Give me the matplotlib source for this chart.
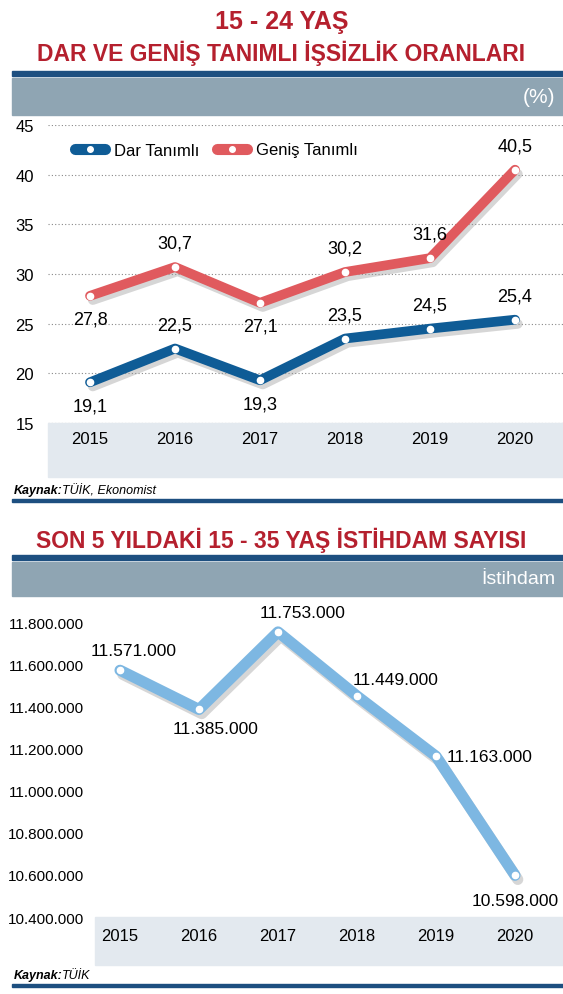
import matplotlib
matplotlib.use("Agg")
import matplotlib.pyplot as plt
from matplotlib.patches import Rectangle
import matplotlib.patheffects as pe

plt.rcParams['font.family'] = ['Liberation Sans', 'DejaVu Sans']

years = [2015, 2016, 2017, 2018, 2019, 2020]
dar = [19.1, 22.5, 19.3, 23.5, 24.5, 25.4]
genis = [27.8, 30.7, 27.1, 30.2, 31.6, 40.5]
istihdam = [11571000, 11385000, 11753000, 11449000, 11163000, 10598000]
yticks1 = [15, 20, 25, 30, 35, 40, 45]
yticks2 = [10400000, 10600000, 10800000, 11000000, 11200000, 11400000, 11600000, 11800000]

W, H = 563, 995
fig = plt.figure(figsize=(W/100, H/100), dpi=100)
RED = '#b5202e'; NAVY = '#1d4f80'; BAND = '#8fa5b3'; LIGHT = '#e3e9ef'
BLUE = '#0f5c96'; PINK = '#e05a5e'; SKY = '#7db7e2'

def fx(px): return px / W
def fy(py): return 1 - py / H
def rect(x0, y0, x1, y1, color):
    fig.patches.append(Rectangle((fx(x0), fy(y1)), fx(x1 - x0), (y1 - y0) / H,
                                 transform=fig.transFigure, color=color, zorder=-5))
def fmt(v):
    return f"{v:,}".replace(',', '.')

# header 1
fig.text(0.5, fy(22), "15 - 24 YAŞ", ha='center', va='center', color=RED, fontsize=18, weight='bold')
fig.text(0.5, fy(53), "DAR VE GENİŞ TANIMLI İŞSİZLİK ORANLARI", ha='center', va='center', color=RED, fontsize=16.5, weight='bold')
rect(12, 72, 563, 77, NAVY)
rect(12, 79, 563, 116, BAND)
fig.text(fx(555), fy(98), "(%)", ha='right', va='center', color='white', fontsize=15)
rect(48, 424, 563, 478, LIGHT)
fig.text(fx(14), fy(491), "Kaynak:", ha='left', va='center', fontsize=9, style='italic', weight='bold')
fig.text(fx(62), fy(491), "TÜİK, Ekonomist", ha='left', va='center', fontsize=9, style='italic')
rect(12, 500, 563, 503, NAVY)

# axes 1
ax1 = fig.add_axes([fx(48), fy(424), fx(515), (424 - 126) / H])
ax1.set_zorder(2)
ax1.set_xlim(2015 - 42/85, 2015 - 42/85 + 515/85)
ax1.set_ylim(15, 45)
ax1.set_facecolor('none')
for s in ax1.spines.values(): s.set_visible(False)
ax1.set_yticks(yticks1)
ax1.set_xticks(years)
ax1.tick_params(length=0, labelsize=12)
ax1.tick_params(axis='y', pad=10)
ax1.tick_params(axis='x', pad=6)
ax1.grid(axis='y', linestyle=(0, (1, 2)), color='#888888', linewidth=0.8)
ax1.set_axisbelow(True)
shadow = [pe.SimpleLineShadow(offset=(2, -3), shadow_color='#999999', alpha=0.4), pe.Normal()]
ax1.plot(years, genis, color=PINK, lw=7, solid_capstyle='round', path_effects=shadow, clip_on=False, zorder=3)
ax1.plot(years, dar, color=BLUE, lw=7, solid_capstyle='round', path_effects=shadow, clip_on=False, zorder=3)
ax1.plot(years, genis, 'o', color='white', ms=4.5, zorder=4, clip_on=False)
ax1.plot(years, dar, 'o', color='white', ms=4.5, zorder=4, clip_on=False)
g_off = [-1, 1, -1, 1, 1, 1]
d_off = [-1, 1, -1, 1, 1, 1]
for x, v, o in zip(years, genis, g_off):
    ax1.annotate(f"{v}".replace('.', ','), (x, v), xytext=(0, 17 * o), textcoords='offset points',
                 ha='center', va='center', fontsize=13)
for x, v, o in zip(years, dar, d_off):
    ax1.annotate(f"{v}".replace('.', ','), (x, v), xytext=(0, 17 * o), textcoords='offset points',
                 ha='center', va='center', fontsize=13)
# legend
for lx, col, txt in [(90, BLUE, "Dar Tanımlı"), (232, PINK, "Geniş Tanımlı")]:
    fig.add_artist(plt.Line2D([fx(lx - 15), fx(lx + 15)], [fy(150), fy(150)], color=col, lw=8,
                              solid_capstyle='round', transform=fig.transFigure))
    fig.add_artist(plt.Line2D([fx(lx)], [fy(150)], marker='o', color='white', ms=4, transform=fig.transFigure))
    fig.text(fx(lx + 24), fy(151), txt, ha='left', va='center', fontsize=12)

# header 2
fig.text(0.5, fy(540), "SON 5 YILDAKİ 15 - 35 YAŞ İSTİHDAM SAYISI", ha='center', va='center', color=RED, fontsize=16.5, weight='bold')
rect(12, 556, 563, 561, NAVY)
rect(12, 563, 563, 597, BAND)
fig.text(fx(555), fy(580), "İstihdam", ha='right', va='center', color='white', fontsize=14)
rect(95, 918, 563, 966, LIGHT)
fig.text(fx(14), fy(976), "Kaynak:", ha='left', va='center', fontsize=9, style='italic', weight='bold')
fig.text(fx(62), fy(976), "TÜİK", ha='left', va='center', fontsize=9, style='italic')
rect(12, 985, 563, 988, NAVY)

ax2 = fig.add_axes([fx(95), fy(918), fx(468), (918 - 600) / H])
ax2.set_zorder(2)
ax2.set_xlim(2015 - 25/79, 2015 - 25/79 + 468/79)
ax2.set_ylim(10400000, 10400000 + 318 / 210.7 * 1e6)
ax2.set_facecolor('none')
for s in ax2.spines.values(): s.set_visible(False)
ax2.set_yticks(yticks2)
ax2.set_yticklabels([fmt(v) for v in yticks2])
ax2.set_xticks(years)
ax2.tick_params(length=0, labelsize=12)
ax2.tick_params(axis='y', labelsize=11, pad=8)
ax2.tick_params(axis='x', pad=8)
ax2.plot(years, istihdam, color=SKY, lw=8, solid_capstyle='round', path_effects=shadow, clip_on=False, zorder=3)
ax2.plot(years, istihdam, 'o', color='white', ms=4.5, zorder=4, clip_on=False)
offs = [(10, 14), (12, -14), (18, 14), (28, 12), (8, 0), (0, -18)]
has = ['center', 'center', 'center', 'center', 'left', 'center']
for x, v, (dx, dy), h in zip(years, istihdam, offs, has):
    ax2.annotate(fmt(v), (x, v), xytext=(dx, dy), textcoords='offset points',
                 ha=h, va='center', fontsize=12.5)

fig.savefig("out.png", dpi=100, facecolor='white')
